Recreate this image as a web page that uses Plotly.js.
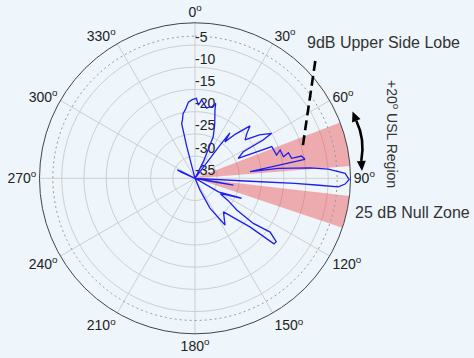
<!DOCTYPE html>
<html><head><meta charset="utf-8">
<script src="https://cdn.plot.ly/plotly-3.0.1.min.js"></script>
<style>html,body{margin:0;padding:0;background:#eef5fb;}#chart{width:474px;height:358px;}</style>
</head><body><div id="chart"></div>
<script>
// Antenna pattern (angle in degrees, clockwise from north; level in dB)
const patternTheta = [291,294,295.5,296.5,298,
  344,345.5,346.3,348,349.5,352,355,358,1,2.6,4.9,7,9.5,11,13.1,15.4,16.3,20,23.7,26.6,28,
  36.5,37,37.5,39.3,42.5,46.4,49,52.5,56,59.6,60.7,61.2,65.2,
  67.6,74.1,71.6,76.3,74.7,78.3,78.2,80.2,83,
  83.2,84.8,86.1,88.1,90.4,92.2,93.4,93.2,92.9,93.1,94,
  98.7,99.9,100.7,101.5,
  119,120,113.2,121,124,127.2,127.7,125.6,128,129.7,131.5,139.7,147.3,153.4,156.9,158];
const patternDb = [-40,-36.6,-35.6,-36.6,-40,
  -40,-32.5,-27.3,-26.5,-25.2,-24.4,-22.8,-22.3,-22.0,-23.5,-22.3,-23.2,-24.0,-23.7,-23.5,-22.5,-24.0,-27,-29.8,-35.8,-40,
  -40,-31,-27.1,-29.4,-26.5,-22.9,-24.5,-25.8,-22.5,-20.0,-22.4,-27.6,-29.3,
  -21.3,-20.9,-19.8,-19.5,-18.2,-17.8,-15.5,-14.9,-27.5,
  -21.1,-14,-9.9,-6.2,-5.3,-6.2,-7.7,-12,-17.5,-28.7,-40,
  -37,-31.2,-37,-40,
  -40,-33.9,-28.6,-33.4,-31,-28.2,-23.4,-19.2,-16.8,-16.9,-23.5,-30.1,-27.5,-32.5,-37.1,-40];

const angleTicks = [0,30,60,90,120,150,180,210,240,270,300,330];
const angleLabels = angleTicks.map(a => a + '<sup>o</sup>');
const radialTicks = [-35,-30,-25,-20,-15,-10,-5];
const radialLabels = radialTicks.map(String);
const floorDb = -40, topDb = -5;
const refLevel = -8;
const labelDrop = 3.45; // tick labels sit just inside each ring

// Shaded zones (center angle, angular width)
const zoneCenters = [77.25, 102.5];
const zoneWidths = [16.5, 12];

const W = 474, H = 358;
const bg = '#eef5fb';
const txt = '#333';
const FONT = 'Liberation Sans, Arial, sans-serif';

function P(x, y) { return [x / W, 1 - y / H]; }
function pathStr(pts, close) {
  return pts.map((p, i) => (i ? 'L' : 'M') + P(p[0], p[1]).join(',')).join(' ') + (close ? ' Z' : '');
}

const refTheta = [];
for (let a = 0; a <= 360; a += 2) refTheta.push(a);

const traces = [
  {type: 'scatterpolar', mode: 'lines', theta: refTheta, r: refTheta.map(() => refLevel),
   line: {color: '#999', width: 1, dash: '2px,3px'}, hoverinfo: 'skip', showlegend: false},
  {type: 'scatterpolar', mode: 'text', theta: radialTicks.map(() => 0), r: radialTicks.map(v => v - labelDrop),
   text: radialLabels, textposition: 'middle right', textfont: {size: 14, color: '#222', family: FONT},
   hoverinfo: 'skip', showlegend: false, cliponaxis: false},
  {type: 'scatterpolar', mode: 'lines', theta: patternTheta, r: patternDb,
   line: {color: 'rgb(30,30,240)', width: 1.3}, showlegend: false},
  {type: 'barpolar', theta: zoneCenters, width: zoneWidths,
   r: zoneCenters.map(() => topDb - floorDb), base: floorDb,
   marker: {color: 'rgba(238,61,62,0.4)', line: {width: 0}}, showlegend: false}
];

// arrow geometry (pixel space)
const a0 = [356.3, 120.8], a1 = [361.3, 161], ac = [365.2, 139.1];
const arrowPath = 'M' + P(a0[0], a0[1]).join(',') + ' Q' + P(ac[0], ac[1]).join(',') + ' ' + P(a1[0], a1[1]).join(',');

const layout = {
  width: W, height: H,
  margin: {l: 0, r: 0, t: 0, b: 0},
  paper_bgcolor: bg, plot_bgcolor: bg,
  font: {family: FONT, color: txt, size: 14},
  showlegend: false,
  polar: {
    domain: {x: [(195 - 155.5) / W, (195 + 155.5) / W], y: [(179.7 - 155.5) / H, (179.7 + 155.5) / H]},
    bgcolor: bg,
    barmode: 'overlay',
    angularaxis: {rotation: 90, direction: 'clockwise', tickmode: 'array', tickvals: angleTicks, ticktext: angleLabels,
      showline: true, linecolor: '#444', linewidth: 1, gridcolor: '#cfcfcf', ticks: '',
      tickfont: {size: 14, color: '#222', family: FONT}},
    radialaxis: {range: [floorDb, topDb], tickmode: 'array', tickvals: radialTicks, ticktext: radialLabels,
      angle: 90, showline: false, showticklabels: false, gridcolor: '#cfcfcf', ticks: ''}
  },
  shapes: [
    {type: 'line', xref: 'paper', yref: 'paper', x0: P(315.3, 61)[0], y0: P(315.3, 61)[1], x1: P(302.7, 146.7)[0], y1: P(302.7, 146.7)[1],
     line: {color: '#000', width: 2.6, dash: '10px,5px'}},
    {type: 'path', xref: 'paper', yref: 'paper', path: arrowPath, line: {color: '#000', width: 2.6}},
    {type: 'path', xref: 'paper', yref: 'paper', path: pathStr([[352.5, 111.5], [360.5, 119.1], [352.1, 122.5]], true), fillcolor: '#000', line: {width: 0}},
    {type: 'path', xref: 'paper', yref: 'paper', path: pathStr([[362, 171], [365.8, 160.7], [356.8, 161.3]], true), fillcolor: '#000', line: {width: 0}}
  ],
  annotations: [
    {text: '9dB Upper Side Lobe', xref: 'paper', yref: 'paper', x: P(305, 42)[0], y: P(305, 42)[1], xanchor: 'left', yanchor: 'middle', showarrow: false, font: {size: 16, color: txt}},
    {text: '25 dB Null Zone', xref: 'paper', yref: 'paper', x: P(353, 212)[0], y: P(353, 212)[1], xanchor: 'left', yanchor: 'middle', showarrow: false, font: {size: 16, color: txt}},
    {text: '+20<sup>o</sup> USL Region', xref: 'paper', yref: 'paper', x: P(393, 134)[0], y: P(393, 134)[1], xanchor: 'center', yanchor: 'middle', textangle: 90, showarrow: false, font: {size: 14, color: txt}}
  ]
};

Plotly.newPlot('chart', traces, layout, {displayModeBar: false, staticPlot: true});
</script>
</body></html>
